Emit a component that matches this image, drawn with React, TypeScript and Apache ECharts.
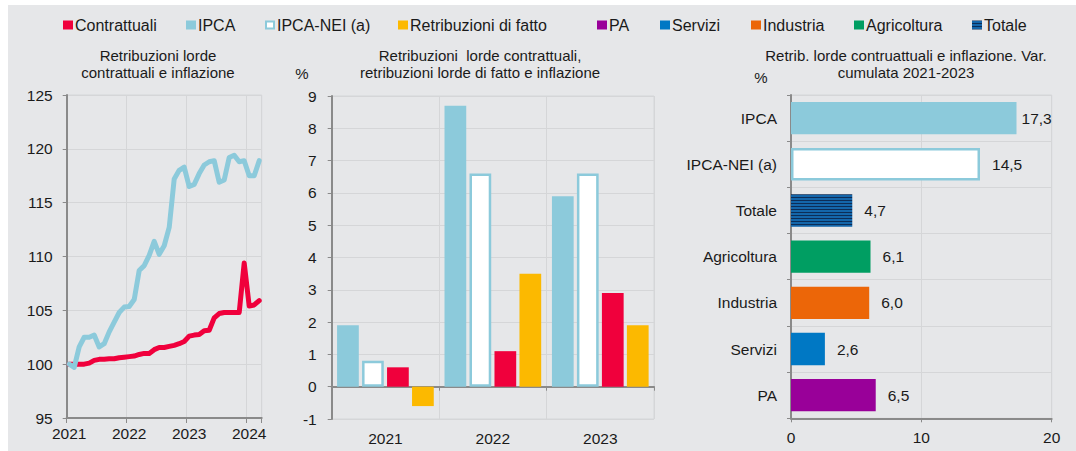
import React, { useEffect, useRef } from "react";
import * as echarts from "echarts";

// ---------- DATA ----------
const months = [
  "2021-01","2021-02","2021-03","2021-04","2021-05","2021-06","2021-07","2021-08","2021-09","2021-10","2021-11","2021-12",
  "2022-01","2022-02","2022-03","2022-04","2022-05","2022-06","2022-07","2022-08","2022-09","2022-10","2022-11","2022-12",
  "2023-01","2023-02","2023-03","2023-04","2023-05","2023-06","2023-07","2023-08","2023-09","2023-10","2023-11","2023-12",
  "2024-01","2024-02","2024-03",
];
const contrattualiIdx = [
  100.0, 100.0, 100.0, 100.0, 100.1, 100.35, 100.45, 100.45, 100.5, 100.5, 100.6, 100.65,
  100.7, 100.75, 100.9, 101.0, 101.0, 101.35, 101.55, 101.55, 101.65, 101.75, 101.9, 102.1,
  102.6, 102.7, 102.75, 103.1, 103.15, 104.3, 104.7, 104.8, 104.8, 104.8, 104.8, 109.4,
  105.4, 105.5, 105.9,
];
const ipcaIdx = [
  100.0, 99.7, 101.6, 102.5, 102.5, 102.7, 101.6, 101.9, 103.0, 103.9, 104.8, 105.3,
  105.35, 106.0, 108.7, 109.15, 110.1, 111.4, 110.2, 111.0, 112.7, 117.2, 118.0, 118.3,
  116.5, 116.7, 117.7, 118.5, 118.8, 118.9, 116.9, 117.1, 119.2, 119.4, 118.8, 118.9,
  117.5, 117.5, 118.9,
];

const years = ["2021", "2022", "2023"];
const ipcaYear = [1.9, 8.7, 5.9];
const neiYear = [0.8, 6.6, 6.6];
const contrYear = [0.6, 1.1, 2.9];
const fattoYear = [-0.6, 3.5, 1.9];

const cumCategories = ["IPCA", "IPCA-NEI (a)", "Totale", "Agricoltura", "Industria", "Servizi", "PA"];
const cumValues = [17.3, 14.5, 4.7, 6.1, 6.0, 2.6, 6.5];

const legendItems = [
  "Contrattuali", "IPCA", "IPCA-NEI (a)", "Retribuzioni di fatto",
  "PA", "Servizi", "Industria", "Agricoltura", "Totale",
];

// ---------- STYLE ----------
const C_RED = "#f0003c";
const C_IPCA = "#8ccadb";
const C_YEL = "#fcb900";
const C_PA = "#990099";
const C_SERV = "#0078c4";
const C_IND = "#ec6608";
const C_AGR = "#009e62";
const C_NAVY = "#0c2d57";
const C_STRIPE = "#1466aa";
const TXT = "#1a1a1a";
const AXIS = "#8a8a8a";
const GRIDC = "#d5d6d8";
const FONT = "'Liberation Sans', Arial, Helvetica, sans-serif";

function stripePattern() {
  const cv = document.createElement("canvas");
  cv.width = 4;
  cv.height = 3;
  const ctx = cv.getContext("2d")!;
  ctx.fillStyle = C_STRIPE;
  ctx.fillRect(0, 0, 4, 3);
  ctx.fillStyle = C_NAVY;
  ctx.fillRect(0, 2, 4, 1);
  return { image: cv, repeat: "repeat" } as any;
}

const fmt = (v: number) => v.toFixed(1).replace(".", ",");

export default function App() {
  const ref = useRef<HTMLDivElement>(null);
  useEffect(() => {
    if (!ref.current) return;
    const chart = echarts.init(ref.current, undefined, { renderer: "svg" });
    const stripes = stripePattern();

    const legendColors: any[] = [C_RED, C_IPCA, "#ffffff", C_YEL, C_PA, C_SERV, C_IND, C_AGR, stripes];
    const legendX = [63, 186, 265, 398, 597, 660, 751, 854, 972];
    const legendGraphics: any[] = [];
    legendItems.forEach((name, i) => {
      const isNei = name === "IPCA-NEI (a)";
      legendGraphics.push({
        type: "rect",
        shape: isNei ? { x: legendX[i] + 1, y: 21.5, width: 8, height: 7 } : { x: legendX[i], y: 20.5, width: 10, height: 9 },
        style: isNei
          ? { fill: "#ffffff", stroke: C_IPCA, lineWidth: 2 }
          : { fill: legendColors[i] },
        silent: true,
      });
      legendGraphics.push({
        type: "text",
        x: legendX[i] + 12,
        y: 25,
        style: {
          text: name, font: `16px ${FONT}`, fill: TXT,
          align: "left", verticalAlign: "middle", textAlign: "left", textVerticalAlign: "middle",
        },
        silent: true,
      });
    });

    const titleText = (text: string, x: number, y: number) => ({
      type: "text",
      x, y,
      style: {
        text, font: `15px ${FONT}`, fill: TXT, lineHeight: 17,
        align: "center", verticalAlign: "middle", textAlign: "center", textVerticalAlign: "middle",
      },
      silent: true,
    });

    const axisLabelStyle = { color: TXT, fontSize: 15.5, fontFamily: FONT };

    const option: any = {
      animation: false,
      backgroundColor: "transparent",
      textStyle: { fontFamily: FONT },
      graphic: [
        ...legendGraphics,
        titleText("Retribuzioni lorde\ncontrattuali e inflazione", 158, 63.5),
        titleText("Retribuzioni  lorde contrattuali,\nretribuzioni lorde di fatto e inflazione", 480, 63.5),
        titleText("Retrib. lorde contruattuali e inflazione. Var.\ncumulata 2021-2023", 906, 63.5),
        titleText("%", 302, 73),
        titleText("%", 761, 77),
      ],
      grid: [
        { left: 66.7, top: 95, width: 195, height: 323, show: true, borderColor: GRIDC, borderWidth: 1 },
        { left: 331.7, top: 96, width: 322.3, height: 323, show: true, borderColor: GRIDC, borderWidth: 1 },
        { left: 791, top: 95, width: 260.7, height: 323.3, show: true, borderColor: GRIDC, borderWidth: 1 },
      ],
      xAxis: [
        {
          gridIndex: 0, type: "category", data: months, boundaryGap: true,
          axisLine: { lineStyle: { color: AXIS, width: 2 } },
          axisTick: { show: true, interval: (i: number) => i % 12 === 0, length: 5, lineStyle: { color: AXIS, width: 1 } },
          axisLabel: { ...axisLabelStyle, interval: (i: number) => i % 12 === 0, formatter: (v: string) => v.slice(0, 4), margin: 7 },
          splitLine: { show: true, interval: (i: number) => i % 12 === 0, lineStyle: { color: GRIDC, width: 1 } },
        },
        {
          gridIndex: 1, type: "category", data: years, position: "bottom",
          axisLine: { show: false, onZero: false },
          axisTick: { show: false },
          axisLabel: { ...axisLabelStyle, margin: 11 },
          splitLine: { show: true, lineStyle: { color: GRIDC, width: 1 } },
        },
        {
          gridIndex: 1, type: "category", data: years, position: "bottom",
          axisLine: { show: true, onZero: true, lineStyle: { color: AXIS, width: 2 } },
          axisTick: { show: true, length: 4, lineStyle: { color: AXIS, width: 1 } },
          axisLabel: { show: false },
          splitLine: { show: false },
        },
        {
          gridIndex: 2, type: "value", min: 0, max: 20, interval: 10,
          axisLine: { show: true, lineStyle: { color: AXIS, width: 2 } },
          axisTick: { show: true, length: 4, lineStyle: { color: AXIS, width: 1 } },
          axisLabel: { ...axisLabelStyle, margin: 11 },
          splitLine: { show: true, lineStyle: { color: GRIDC, width: 1 } },
        },
      ],
      yAxis: [
        {
          gridIndex: 0, type: "value", min: 95, max: 125, interval: 5,
          axisLine: { show: true, lineStyle: { color: AXIS, width: 2 } },
          axisTick: { show: true, length: 4, lineStyle: { color: AXIS, width: 1 } },
          axisLabel: { ...axisLabelStyle, margin: 14 },
          splitLine: { show: true, lineStyle: { color: GRIDC, width: 1 } },
        },
        {
          gridIndex: 1, type: "value", min: -1, max: 9, interval: 1,
          axisLine: { show: true, onZero: false, lineStyle: { color: AXIS, width: 2 } },
          axisTick: { show: true, length: 4, lineStyle: { color: AXIS, width: 1 } },
          axisLabel: { ...axisLabelStyle, margin: 15 },
          splitLine: { show: true, lineStyle: { color: GRIDC, width: 1 } },
        },
        {
          gridIndex: 2, type: "category", data: cumCategories, inverse: true,
          axisLine: { show: true, lineStyle: { color: AXIS, width: 2 } },
          axisTick: { show: true, length: 4, lineStyle: { color: AXIS, width: 1 } },
          axisLabel: { ...axisLabelStyle, margin: 14 },
          splitLine: { show: true, lineStyle: { color: GRIDC, width: 1 } },
        },
      ],
      series: [
        {
          name: "Contrattuali", type: "line", xAxisIndex: 0, yAxisIndex: 0,
          data: contrattualiIdx, showSymbol: false, symbol: "none",
          lineStyle: { color: C_RED, width: 5, join: "round", cap: "round" }, z: 3,
        },
        {
          name: "IPCA", type: "line", xAxisIndex: 0, yAxisIndex: 0,
          data: ipcaIdx, showSymbol: false, symbol: "none",
          lineStyle: { color: C_IPCA, width: 5, join: "round", cap: "round" }, z: 4,
        },
        {
          name: "IPCA", type: "bar", xAxisIndex: 1, yAxisIndex: 1, data: ipcaYear,
          itemStyle: { color: C_IPCA }, barGap: "15%", barCategoryGap: "10%",
        },
        {
          name: "IPCA-NEI (a)", type: "bar", xAxisIndex: 1, yAxisIndex: 1, data: neiYear,
          itemStyle: { color: "#ffffff", borderColor: C_IPCA, borderWidth: 2.5 }, barGap: "15%", barCategoryGap: "10%",
        },
        {
          name: "Contrattuali", type: "bar", xAxisIndex: 1, yAxisIndex: 1, data: contrYear,
          itemStyle: { color: C_RED }, barGap: "15%", barCategoryGap: "10%",
        },
        {
          name: "Retribuzioni di fatto", type: "bar", xAxisIndex: 1, yAxisIndex: 1, data: fattoYear,
          itemStyle: { color: C_YEL }, barGap: "15%", barCategoryGap: "10%",
        },
        {
          name: "Var. cumulata", type: "bar", xAxisIndex: 3, yAxisIndex: 2,
          barCategoryGap: "30%",
          data: cumValues.map((v, i) => {
            const name = cumCategories[i];
            const colorMap: Record<string, any> = {
              "IPCA": { color: C_IPCA },
              "IPCA-NEI (a)": { color: "#ffffff", borderColor: C_IPCA, borderWidth: 2.5 },
              "Totale": { color: stripes },
              "Agricoltura": { color: C_AGR },
              "Industria": { color: C_IND },
              "Servizi": { color: C_SERV },
              "PA": { color: C_PA },
            };
            return {
              value: v,
              itemStyle: colorMap[name],
              label: { distance: name === "IPCA" ? 5 : 12 },
            };
          }),
          label: {
            show: true, position: "right", color: TXT, fontSize: 15.5, fontFamily: FONT,
            formatter: (p: any) => fmt(p.value),
          },
        },
      ],
    };
    chart.setOption(option);
    return () => chart.dispose();
  }, []);

  return (
    <div style={{ position: "fixed", left: 0, top: 0, width: 1076, height: 451, background: "#ffffff" }}>
      <div style={{ position: "absolute", left: 8, top: 5, width: 1068, height: 446, background: "#e6e7e9" }} />
      <div ref={ref} style={{ position: "absolute", left: 0, top: 0, width: 1076, height: 451 }} />
    </div>
  );
}
